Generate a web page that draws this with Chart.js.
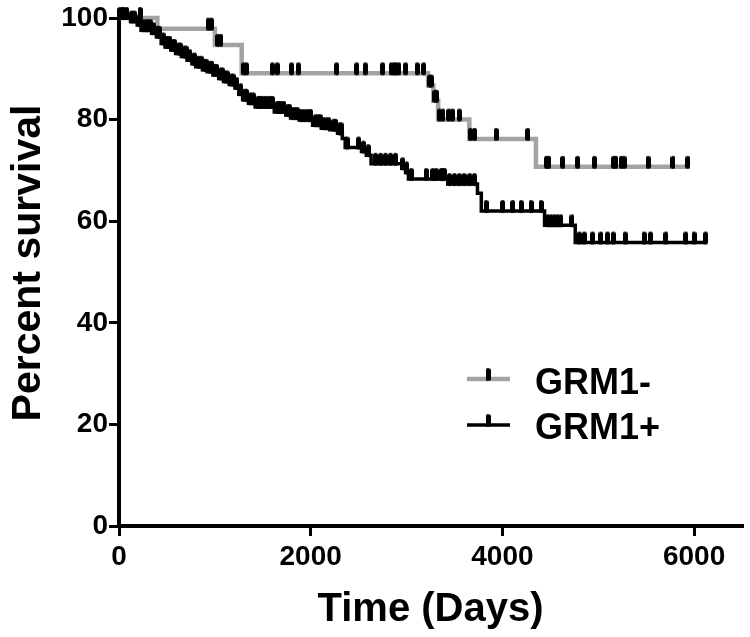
<!DOCTYPE html>
<html><head><meta charset="utf-8">
<script src="https://cdn.jsdelivr.net/npm/chart.js@4.4.1/dist/chart.umd.min.js"></script>
<style>html,body{margin:0;padding:0;background:#fff;}</style>
</head><body>
<canvas id="c" width="750" height="637"></canvas>
<script>
const seriesNames = ['GRM1-', 'GRM1+'];
const xTitle = 'Time (Days)';
const yTitle = 'Percent survival';
const xTicks = [0, 2000, 4000, 6000];
const yTicks = [0, 20, 40, 60, 80, 100];

// GRM1- : Kaplan-Meier step events (day, percent survival)
const negDays = [0, 400, 1000, 1280, 3225, 3280, 3330, 3655, 4350];
const negSurv = [100, 97.9, 94.7, 89.1, 86.7, 83.7, 80.0, 76.2, 70.7];
const negEnd = 5935;
const negCensor = [45, 220, 930, 965, 1030, 1062, 1300, 1330, 1600, 1650, 1800, 1870, 2270, 2480, 2570, 2750, 2840, 2870, 2890, 2920, 2990, 3110, 3180, 3240, 3260, 3295, 3315, 3340, 3380, 3440, 3480, 3550, 3665, 3710, 3935, 4265, 4460, 4485, 4630, 4785, 4960, 5160, 5185, 5240, 5270, 5520, 5780, 5935];

// GRM1+ : Kaplan-Meier step events (day, percent survival)
const posDays = [0, 120, 190, 230, 340, 390, 440, 480, 540, 590, 650, 710, 760, 800, 870, 920, 980, 1040, 1090, 1150, 1210, 1250, 1290, 1350, 1420, 1620, 1740, 1790, 1880, 2020, 2110, 2200, 2280, 2330, 2360, 2530, 2580, 2630, 2950, 2990, 3020, 3430, 3740, 3780, 4440, 4760];
const posSurv = [100, 99.3, 98.6, 97.6, 97.0, 96.3, 95.0, 94.3, 93.7, 93.0, 92.4, 91.7, 91.0, 90.4, 89.8, 89.4, 88.8, 88.1, 87.5, 86.9, 86.2, 85.0, 83.9, 83.2, 82.5, 81.5, 80.9, 80.3, 79.9, 78.9, 78.3, 78.0, 77.3, 76.3, 74.5, 73.7, 73.0, 71.3, 70.4, 69.6, 68.3, 67.3, 65.5, 62.0, 59.2, 55.8];
const posEnd = 6120;
const posCensor = [10, 40, 80, 130, 160, 210, 250, 280, 300, 330, 360, 400, 420, 460, 500, 510, 530, 560, 580, 620, 640, 680, 700, 740, 780, 790, 830, 860, 890, 910, 950, 970, 1000, 1020, 1060, 1080, 1110, 1130, 1170, 1190, 1230, 1270, 1310, 1330, 1370, 1400, 1450, 1470, 1490, 1520, 1550, 1580, 1600, 1650, 1670, 1690, 1720, 1760, 1780, 1810, 1840, 1860, 1900, 1930, 1960, 1990, 2000, 2050, 2080, 2100, 2140, 2170, 2190, 2240, 2260, 2300, 2320, 2380, 2500, 2550, 2600, 2677, 2729, 2781, 2833, 2885, 2960, 3000, 3049, 3205, 3274, 3309, 3361, 3378, 3396, 3448, 3500, 3550, 3600, 3660, 3708, 3830, 4003, 4107, 4195, 4299, 4403, 4472, 4507, 4542, 4576, 4611, 4726, 4802, 4854, 4941, 5028, 5097, 5156, 5281, 5479, 5545, 5705, 5913, 6000, 6120];

const GRAY = '#a3a3a3';
const FONT = 'Liberation Sans, Arial, Helvetica, sans-serif';

function levelAt(days, surv, t) {
  let v = surv[0];
  for (let i = 0; i < days.length; i++) if (days[i] <= t) v = surv[i];
  return v;
}
function stepData(days, surv, end) {
  const pts = days.map((d, i) => ({x: d, y: surv[i]}));
  pts.push({x: end, y: surv[surv.length - 1]});
  return pts;
}
function censorData(days, surv, times) {
  return times.map(t => ({x: t, y: levelAt(days, surv, t)}));
}
function makeTick() {
  const c = document.createElement('canvas');
  c.width = 5; c.height = 26;
  const g = c.getContext('2d');
  g.fillStyle = '#000';
  g.beginPath();
  if (g.roundRect) g.roundRect(0, 2, 5, 13, 2.5); else g.rect(0, 2, 5, 13);
  g.fill();
  return c;
}
const tickImg = makeTick();

const legendPlugin = {
  id: 'kmLegend',
  afterDraw(chart) {
    const ctx = chart.ctx;
    const rows = [
      {name: seriesNames[0], color: GRAY, width: 4.5, y: 379, base: 393.5},
      {name: seriesNames[1], color: '#000', width: 3.5, y: 425, base: 438.5}
    ];
    ctx.save();
    rows.forEach(r => {
      ctx.strokeStyle = r.color;
      ctx.lineWidth = r.width;
      ctx.beginPath();
      ctx.moveTo(467, r.y); ctx.lineTo(510, r.y);
      ctx.stroke();
      ctx.drawImage(tickImg, 488 - 2.5, r.y - 13);
      ctx.fillStyle = '#000';
      ctx.font = 'bold 36px ' + FONT;
      ctx.textBaseline = 'alphabetic';
      ctx.textAlign = 'left';
      ctx.fillText(r.name, 535, r.base);
    });
    // y-axis title
    ctx.translate(40, 263);
    ctx.rotate(-Math.PI / 2);
    ctx.font = 'bold 41px ' + FONT;
    ctx.textAlign = 'center';
    ctx.textBaseline = 'alphabetic';
    ctx.fillText(yTitle, 0, 0);
    ctx.restore();
  }
};

new Chart(document.getElementById('c'), {
  type: 'line',
  data: {
    datasets: [
      {label: seriesNames[1] + ' censored', type: 'scatter', data: censorData(posDays, posSurv, posCensor),
       pointStyle: tickImg, pointRadius: 3, showLine: false, order: 0, clip: false},
      {label: seriesNames[0] + ' censored', type: 'scatter', data: censorData(negDays, negSurv, negCensor),
       pointStyle: tickImg, pointRadius: 3, showLine: false, order: 0, clip: false},
      {label: seriesNames[1], data: stepData(posDays, posSurv, posEnd), stepped: 'before',
       borderColor: '#000', borderWidth: 3.5, pointRadius: 0, fill: false, order: 1, clip: false},
      {label: seriesNames[0], data: stepData(negDays, negSurv, negEnd), stepped: 'before',
       borderColor: GRAY, borderWidth: 4.5, pointRadius: 0, fill: false, order: 2, clip: false}
    ]
  },
  options: {
    responsive: false,
    animation: false,
    devicePixelRatio: 1,
    layout: {padding: {top: 18, right: 8, left: 0, bottom: 0}},
    plugins: {legend: {display: false}, tooltip: {enabled: false}},
    scales: {
      x: {
        type: 'linear', position: 'bottom', min: 0, max: 6500,
        afterFit: s => { s.height = 111; },
        afterBuildTicks: s => { s.ticks = xTicks.map(v => ({value: v})); },
        ticks: {font: {family: FONT, weight: 'bold', size: 28}, color: '#000', padding: 4, maxRotation: 0, autoSkip: false, includeBounds: false,
                callback: v => String(v)},
        grid: {drawOnChartArea: false, drawTicks: true, tickLength: 10, color: '#000', lineWidth: 3},
        border: {display: true, color: '#000', width: 4},
        title: {display: true, text: xTitle, color: '#000', font: {family: FONT, weight: 'bold', size: 40}, padding: {top: 0, bottom: 3}}
      },
      y: {
        type: 'linear', position: 'left', min: 0, max: 100,
        afterFit: s => { s.width = 119; },
        afterBuildTicks: s => { s.ticks = yTicks.map(v => ({value: v})); },
        ticks: {font: {family: FONT, weight: 'bold', size: 28}, color: '#000', padding: 1, includeBounds: false,
                callback: v => String(v)},
        grid: {drawOnChartArea: false, drawTicks: true, tickLength: 10, color: '#000', lineWidth: 3},
        border: {display: true, color: '#000', width: 4},
        title: {display: false}
      }
    }
  },
  plugins: [legendPlugin]
});
</script>
</body></html>
